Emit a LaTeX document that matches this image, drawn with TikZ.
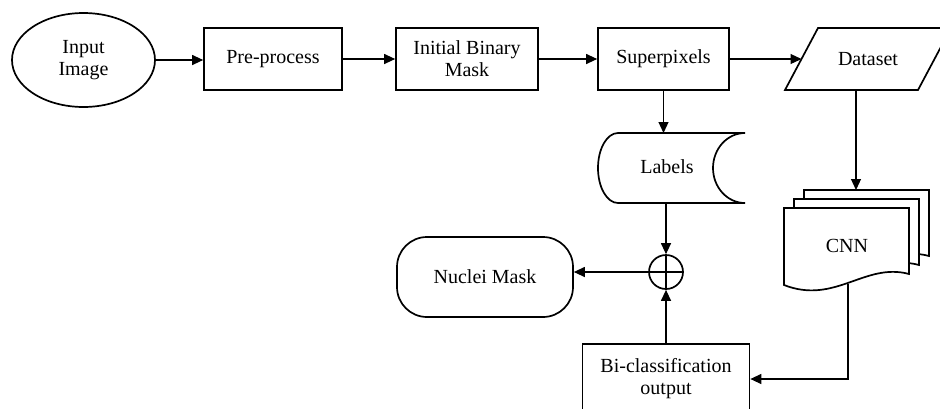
\documentclass[tikz,border=0pt]{standalone}
\usepackage{fontspec}
\setmainfont{Liberation Serif}
\usetikzlibrary{shapes.geometric,arrows.meta}
\begin{document}
\begin{tikzpicture}[x=1pt,y=-1pt,
  shp/.style={draw, line width=1.7pt, fill=white},
  box/.style={shp, rectangle, inner sep=0pt, align=center},
  conn/.style={line width=1.2pt, -{Triangle[length=11pt,width=10pt]}},
  font=\fontsize{20}{22}\selectfont]
\useasboundingbox (0,0) rectangle (940,408);
\clip (0,0) rectangle (940,408);
\fill[white] (0,0) rectangle (940,408);

% top row
\node[shp, ellipse, minimum width=143pt, minimum height=94pt, inner sep=0pt, align=center] (input) at (83.5,60) {Input\\Image};
\node[box, minimum width=138pt, minimum height=62pt] (pre) at (273,59) {Pre-process};
\node[box, minimum width=142pt, minimum height=62pt] (ibm) at (467,59) {Initial Binary\\Mask};
\node[box, minimum width=131pt, minimum height=62pt] (sup) at (663.5,59) {Superpixels};

% dataset parallelogram
\draw[shp] (785,90) -- (818,28) -- (951,28) -- (918,90) -- cycle;
\node (dataset) at (868,59) {Dataset};
\coordinate (dsin) at (801.5,59);
\coordinate (dsout) at (856,90);

% labels (stored data)
\draw[shp] (618,133) -- (745,133) arc[start angle=90,end angle=270,x radius=32pt,y radius=35pt]
  -- (618,203) arc[start angle=270,end angle=90,x radius=20pt,y radius=35pt] -- cycle;
\node (labels) at (667,167) {Labels};
\coordinate (labin) at (663.5,133);
\coordinate (labout) at (666,203);

% summing junction
\node[shp, circle, minimum size=34pt, inner sep=0pt] (sum) at (666,272) {};
\draw[line width=1.7pt] (sum.north) -- (sum.south) (sum.west) -- (sum.east);

% nuclei mask
\node[shp, rectangle, rounded corners=30pt, minimum width=176pt, minimum height=80pt, inner sep=0pt] (nuc) at (485,277) {Nuclei Mask};

% bi-classification
\node[box, minimum width=167pt, minimum height=70pt] (bi) at (666,379) {Bi-classification\\output};

% CNN multi-document
\foreach \s in {20,10,0}{
  \draw[shp, shift={(\s,-0.9*\s)}] (784,208) -- (909,208) -- (909,274)
    .. controls (865,262) and (835,305) .. (784,285) -- cycle;
}
\node (cnn) at (847,246) {CNN};
\coordinate (cnnin) at (856,190);
\coordinate (cnnout) at (848,284);

% connectors
\draw[conn] (input.east) -- (input.east -| pre.west);
\draw[conn] (pre.east) -- (ibm.west);
\draw[conn] (ibm.east) -- (sup.west);
\draw[conn] (sup.east) -- (dsin);
\draw[conn] (sup.south) -- (labin);
\draw[conn] (labout) -- (sum.north);
\draw[conn] (bi.north) -- (sum.south);
\draw[conn] (sum.west) -- (sum.west -| nuc.east);
\draw[conn] (dsout) -- (cnnin);
\draw[conn] (cnnout) |- (bi.east);
\end{tikzpicture}
\end{document}
